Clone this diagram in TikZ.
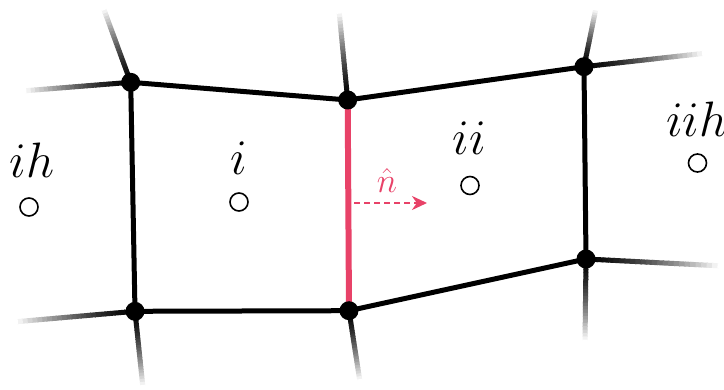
\documentclass[tikz,border=0pt]{standalone}
\usetikzlibrary{calc,arrows.meta}
\definecolor{facered}{RGB}{232,66,104}
\newcommand\fadeline[2]{%
  \foreach \k in {0,...,24}{%
    \pgfmathtruncatemacro\pp{100*(1-(\k/24)^1.4)}%
    \draw[line width=2.5pt,line cap=butt,black!\pp]
      ($(#1)!{\k/25}!(#2)$) -- ($(#1)!{(\k+1.2)/25}!(#2)$);
  }%
}
\begin{document}
\begin{tikzpicture}[x=0.5pt,y=-0.5pt,
  edge/.style={line width=2.5pt,black},
  vert/.style={circle,fill=black,inner sep=0pt,minimum size=9.5pt},
  cell/.style={circle,draw=black,line width=0.8pt,inner sep=0pt,minimum size=9pt},
  lab/.style={anchor=base,inner sep=0pt,font=\fontsize{24}{28}\selectfont}]
\useasboundingbox (0,0) rectangle (724,390);
% vertices
\coordinate (A) at (130.7,82.3);
\coordinate (B) at (347.7,100);
\coordinate (C) at (584,66.7);
\coordinate (D) at (135,311.3);
\coordinate (E) at (349,310.7);
\coordinate (F) at (586,259);
% free ends of fading lines
\coordinate (Au) at (103,7);
\coordinate (Al) at (22,91);
\coordinate (Bu) at (339,10);
\coordinate (Cu) at (596,8);
\coordinate (Cr) at (707,53);
\coordinate (Dl) at (13,322);
\coordinate (Dd) at (143,388);
\coordinate (Ed) at (360,382);
\coordinate (Fr) at (723,266);
\coordinate (Fd) at (585,343);
% fading lines
\fadeline{A}{Au}
\fadeline{A}{Al}
\fadeline{B}{Bu}
\fadeline{C}{Cu}
\fadeline{C}{Cr}
\fadeline{D}{Dl}
\fadeline{D}{Dd}
\fadeline{E}{Ed}
\fadeline{F}{Fr}
\fadeline{F}{Fd}
% edges
\draw[edge] (A) -- (B);
\draw[edge] (B) -- (C);
\draw[edge] (A) -- (D);
\draw[edge] (D) -- (E);
\draw[edge] (E) -- (F);
\draw[edge] (C) -- (F);
\draw[line width=3pt,facered] (B) -- (E);
% vertex dots
\foreach \v in {A,B,C,D,E,F}{\node[vert] (\v dot) at (\v) {};}
% cell centres
\node[cell] (cih) at (29,207) {};
\node[cell] (ci) at (239,202) {};
\node[cell] (cii) at (470,185.5) {};
\node[cell] (ciih) at (697.5,163) {};
% labels
\node[lab] (lih) at (32,177) {$ih$};
\node[lab] (li) at (239,175) {$i$};
\node[lab] (lii) at (469,155) {$ii$};
\node[lab] (liih) at (697,137) {$iih$};
% normal
\coordinate (n0) at (354,203);
\coordinate (n1) at (427,203);
\draw[facered,line width=1.4pt,dash pattern=on 3pt off 2pt,-{Stealth[length=7.5pt,width=7pt]}] (n0) -- (n1);
\node[anchor=base,inner sep=0pt,text=facered,font=\fontsize{16}{18}\selectfont] (nl) at (387,193) {$\hat{n}$};
\end{tikzpicture}
\end{document}
